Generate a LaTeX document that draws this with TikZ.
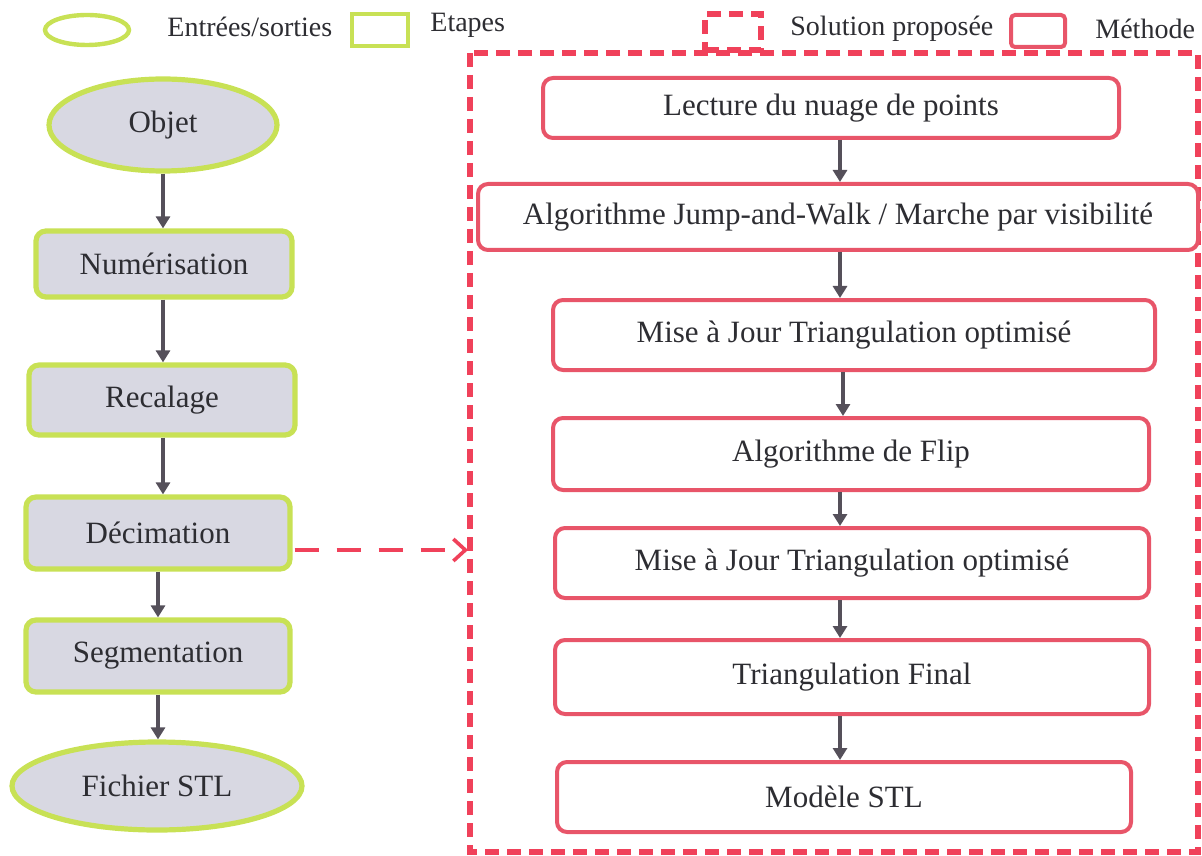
\documentclass[tikz,border=0pt]{standalone}
\usepackage{fontspec}
\setmainfont{Liberation Serif}
\usetikzlibrary{shapes.geometric,arrows.meta}
\definecolor{lime}{RGB}{200,225,85}
\definecolor{boxfill}{RGB}{216,216,226}
\definecolor{redb}{RGB}{232,85,105}
\definecolor{redd}{RGB}{240,65,90}
\definecolor{arrowgray}{RGB}{85,80,90}
\definecolor{txt}{RGB}{45,45,50}
\tikzset{
  iobox/.style={ellipse, draw=lime, line width=2.6pt, fill=boxfill, text=txt, inner sep=0pt,
    font=\fontsize{15.5}{18}\selectfont},
  stepbox/.style={rectangle, rounded corners=5pt, draw=lime, line width=2.6pt, fill=boxfill, text=txt,
    inner sep=0pt, font=\fontsize{15.5}{18}\selectfont},
  methbox/.style={rectangle, rounded corners=5pt, draw=redb, line width=2pt, fill=white, text=txt,
    inner sep=0pt, font=\fontsize{15.5}{18}\selectfont},
  flow/.style={draw=arrowgray, line width=2pt, -{Triangle[width=7pt,length=6pt]}},
  legtext/.style={anchor=west, text=txt, inner sep=0pt, font=\fontsize{14}{16}\selectfont},
  soldash/.style={draw=redd, line width=2.6pt, dash pattern=on 7pt off 4pt},
}
\begin{document}
\begin{tikzpicture}[x=0.5pt,y=-0.5pt]
\useasboundingbox (0,0) rectangle (1202,855);
% legend
\node[ellipse, draw=lime, line width=2.2pt, minimum width=42pt, minimum height=15pt, inner sep=0pt] (legio) at (87,30) {};
\node[legtext] (legiot) at (167,27) {Entrées/sorties};
\node[rectangle, draw=lime, line width=2.2pt, minimum width=28pt, minimum height=16pt, inner sep=0pt] (legst) at (380,30) {};
\node[legtext] (legstt) at (430,25) {Etapes};
\node[rectangle, soldash, minimum width=28pt, minimum height=18pt, inner sep=0pt] (legsol) at (733,32) {};
\node[legtext] (legsolt) at (790,29) {Solution proposée};
\node[rectangle, rounded corners=2pt, draw=redb, line width=2pt, minimum width=27pt, minimum height=16pt, inner sep=0pt] (legme) at (1038,31) {};
\node[legtext] (legmet) at (1095,29) {Méthode};
% big dashed frame
\draw[soldash] (470,53) rectangle (1198,852);
% left column
\node[iobox, minimum width=114pt, minimum height=46pt] (objet) at (163,125) {Objet};
\node[stepbox, minimum width=128pt, minimum height=33pt] (num) at (164,264) {Numérisation};
\node[stepbox, minimum width=133pt, minimum height=35pt] (rec) at (162,400) {Recalage};
\node[stepbox, minimum width=132pt, minimum height=36pt] (dec) at (158,533) {Décimation};
\node[stepbox, minimum width=132pt, minimum height=36pt] (seg) at (158,656) {Segmentation};
\node[iobox, minimum width=145pt, minimum height=44pt] (stl) at (157,786) {Fichier STL};
\coordinate (l1) at (163,0);
\coordinate (l2) at (158,0);
\draw[flow] (objet.south -| l1) -- (num.north -| l1);
\draw[flow] (num.south -| l1) -- (rec.north -| l1);
\draw[flow] (rec.south -| l1) -- (dec.north -| l1);
\draw[flow] (dec.south -| l2) -- (seg.north -| l2);
\draw[flow] (seg.south -| l2) -- (stl.north -| l2);
% right column
\node[methbox, minimum width=288pt, minimum height=30pt] (lect) at (831,108) {Lecture du nuage de points};
\node[methbox, minimum width=360pt, minimum height=33pt] (jump) at (838,217) {Algorithme Jump-and-Walk / Marche par visibilité};
\node[methbox, minimum width=301pt, minimum height=35pt] (maj1) at (854,335) {Mise à Jour Triangulation optimisé};
\node[methbox, minimum width=298pt, minimum height=36pt] (flip) at (851,454) {Algorithme de Flip};
\node[methbox, minimum width=297pt, minimum height=35pt] (maj2) at (852,563) {Mise à Jour Triangulation optimisé};
\node[methbox, minimum width=297pt, minimum height=37pt] (fin) at (852,677) {Triangulation Final};
\node[methbox, minimum width=287pt, minimum height=35pt] (mod) at (844,797) {Modèle STL};
\coordinate (c1) at (840,0);
\draw[flow] (lect.south -| c1) -- (jump.north -| c1);
\draw[flow] (jump.south -| c1) -- (maj1.north -| c1);
\coordinate (c2) at (843,0);
\draw[flow] (maj1.south -| c2) -- (flip.north -| c2);
\draw[flow] (flip.south -| c1) -- (maj2.north -| c1);
\draw[flow] (maj2.south -| c1) -- (fin.north -| c1);
\draw[flow] (fin.south -| c1) -- (mod.north -| c1);
% dashed link
\coordinate (frameleft) at (468,550);
\draw[draw=redd, line width=1.8pt, dash pattern=on 12pt off 9pt, -{Straight Barb[length=6pt,width=11pt]}] (dec.east |- frameleft) ++(2,0) -- (frameleft);
\end{tikzpicture}
\end{document}
